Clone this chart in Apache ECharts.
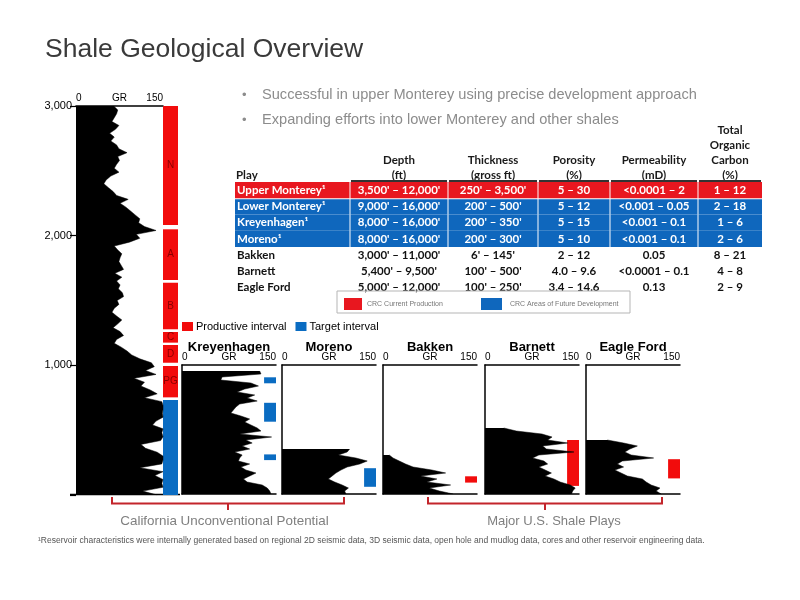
<!DOCTYPE html>
<html><head><meta charset="utf-8">
<script src="https://cdn.jsdelivr.net/npm/echarts@6/dist/echarts.min.js"></script>
<style>html,body{margin:0;padding:0;background:#fff}#c{width:800px;height:600px}</style>
</head><body><div id="c"></div>
<script>
// ---------------- DATA ----------------
const mainDepth = [3000,2970,2940,2910,2880,2850,2820,2790,2760,2730,2700,2670,2640,2610,2580,2550,2520,2490,2460,2430,2400,2370,2340,2310,2280,2250,2220,2190,2160,2130,2100,2070,2040,2010,1980,1950,1920,1890,1860,1830,1800,1770,1740,1710,1680,1650,1620,1590,1560,1530,1500,1470,1440,1410,1380,1350,1320,1290,1260,1230,1200,1170,1140,1110,1080,1050,1020,990,960,930,900,870,840,810,780,750,720,690,660,630,600,570,540,510,480,450,420,390,360,330,300,270,240,210,180,150,120,90,60,30,0];
const mainGR = [65,72,70,66,62,74,68,58,66,60,70,74,88,72,75,70,66,74,60,52,48,56,64,70,90,76,86,94,102,110,108,118,138,104,110,92,66,72,79,76,74,78,82,67,79,70,76,73,80,82,71,74,66,62,70,79,72,64,76,82,70,66,78,88,96,110,130,135,120,138,100,118,112,128,140,118,148,150,150,149,150,138,132,150,148,150,146,112,120,140,150,150,148,110,150,136,150,148,150,115,140];

const zoneNames = ['N','A','B','C','D','PG'];
const zoneTop   = [3000,2049,1637,1257,1157,995];
const zoneBase  = [2082,1658,1278,1175,1020,753];
const targetTop  = [733];
const targetBase = [0];

const miniNames = ['Kreyenhagen','Moreno','Bakken','Barnett','Eagle Ford'];
const miniSample = [0,1,2,3,4,5,6,7,8,9,10,11,12,13,14,15,16,17,18,19,20,21,22,23,24,25,26,27,28,29,30,31,32,33,34,35,36,37,38,39,40,41,42,43];
const kreyenhagenGR = [null,null,124,126,64,62,110,122,100,88,116,104,120,92,86,82,78,94,108,100,110,120,126,92,143,102,112,96,108,84,96,92,90,108,94,102,118,108,98,104,128,136,140,142];
const morenoGR = [null,null,null,null,null,null,null,null,null,null,null,null,null,null,null,null,null,null,null,null,null,null,null,null,null,null,null,null,108,104,90,118,136,124,104,94,86,80,74,84,96,106,100,102];
const bakkenGR = [null,null,null,null,null,null,null,null,null,null,null,null,null,null,null,null,null,null,null,null,null,null,null,null,null,null,null,null,null,null,10,16,26,36,48,78,100,60,86,70,108,74,90,112];
const barnettGR = [null,null,null,null,null,null,null,null,null,null,null,null,null,null,null,null,null,null,null,null,null,30,50,91,107,100,132,92,98,142,86,76,94,100,86,96,106,96,110,120,136,144,140,138];
const eagleFordGR = [null,null,null,null,null,null,null,null,null,null,null,null,null,null,null,null,null,null,null,null,null,null,null,null,null,34,60,82,70,62,72,108,58,50,60,46,56,66,90,96,104,118,112,120];
const miniGR = [kreyenhagenGR, morenoGR, bakkenGR, barnettGR, eagleFordGR];
const miniTargetTop  = [[4.1,12.6,29.8],[34.4],[],[],[]];
const miniTargetBase = [[6.1,18.9,31.7],[40.6],[],[],[]];
const miniProdTop    = [[],[],[37.1],[25.0],[31.4]];
const miniProdBase   = [[],[],[39.2],[40.3],[37.8]];

const tablePlays = ['Upper Monterey','Lower Monterey','Kreyenhagen','Moreno','Bakken','Barnett','Eagle Ford'];
const tableNote  = [true,true,true,true,false,false,false];
const tableStatus = ['current','future','future','future','other','other','other'];
const tableDepth = ["3,500' \u2013 12,000'","9,000' \u2013 16,000'","8,000' \u2013 16,000'","8,000' \u2013 16,000'","3,000' \u2013 11,000'","5,400' \u2013 9,500'","5,000' \u2013 12,000'"];
const tableThick = ["250' \u2013 3,500'","200' \u2013 500'","200' \u2013 350'","200' \u2013 300'","6' \u2013 145'","100' \u2013 500'","100' \u2013 250'"];
const tablePoro  = ["5 \u2013 30","5 \u2013 12","5 \u2013 15","5 \u2013 10","2 \u2013 12","4.0 \u2013 9.6","3.4 \u2013 14.6"];
const tablePerm  = ["<0.0001 \u2013 2","<0.001 \u2013 0.05","<0.001 \u2013 0.1","<0.001 \u2013 0.1","0.05","<0.0001 \u2013 0.1","0.13"];
const tableTOC   = ["1 \u2013 12","2 \u2013 18","1 \u2013 6","2 \u2013 6","8 \u2013 21","4 \u2013 8","2 \u2013 9"];
const tableHeads = [['Play'],['Depth','(ft)'],['Thickness','(gross ft)'],['Porosity','(%)'],['Permeability','(mD)'],['Total','Organic','Carbon','(%)']];

const bullets = ['Successful in upper Monterey using precise development approach','Expanding efforts into lower Monterey and other shales'];
const groupLabels = ['California Unconventional Potential','Major U.S. Shale Plays'];
const crcLegend = ['CRC Current Production','CRC Areas of Future Development'];
const footnote = '\u00B9Reservoir characteristics were internally generated based on regional 2D seismic data, 3D seismic data, open hole and mudlog data, cores and other reservoir engineering data.';

// ---------------- STYLE / LAYOUT ----------------
const RED = '#f20c0c', BLUE = '#0a6cc2', TRED = '#e8171f', TBLUE = '#0f67bd';
const FONT = 'Liberation Sans';
const chart = echarts.init(document.getElementById('c'), null, {renderer:'canvas'});

const grids = [
  {left:76, top:106, width:87, height:389},
  {left:163, top:106, width:15, height:389}
];
const miniLeft = [182,282,383,485,586];
miniLeft.forEach(l => grids.push({left:l, top:365, width:94, height:129}));

const xAxes = [], yAxes = [], series = [];
const grAxis = (gi) => ({
  gridIndex:gi, type:'value', min:0, max:150, interval:150, position:'top',
  axisLine:{show:true, onZero:false, lineStyle:{color:'#000', width:1.5}},
  axisTick:{show:false}, splitLine:{show:false},
  axisLabel:{fontSize:10, color:'#000', margin:3, fontFamily:FONT, alignMinLabel:'left', alignMaxLabel:'right'},
  name:'GR', nameLocation:'middle', nameGap:3, nameMoveOverlap:false,
  nameTextStyle:{fontSize:10, color:'#000', fontFamily:FONT, verticalAlign:'bottom'}
});
// main grid
xAxes.push(grAxis(0));
yAxes.push({gridIndex:0, type:'category', data:mainDepth, inverse:true, boundaryGap:false, show:false});
yAxes.push({gridIndex:0, type:'value', min:0, max:3000, interval:1000, position:'left',
  axisLine:{show:false}, axisTick:{show:true, length:6, lineStyle:{color:'#000', width:1.2}}, splitLine:{show:false},
  axisLabel:{fontSize:11, color:'#000', margin:4, fontFamily:FONT, formatter:v => v === 0 ? '' : v.toLocaleString('en-US')}});
// column grid
xAxes.push({gridIndex:1, type:'value', min:0, max:1, show:false});
yAxes.push({gridIndex:1, type:'value', min:0, max:3000, show:false});

series.push({type:'line', xAxisIndex:0, yAxisIndex:0, data:mainGR, symbol:'none', silent:true,
  lineStyle:{color:'#000', width:0.5}, areaStyle:{color:'#000', opacity:1}});

function rectRender(labels, labelColor) {
  return function(params, api) {
    const p0 = api.coord([api.value(0), api.value(2)]);
    const p1 = api.coord([api.value(1), api.value(3)]);
    const x = Math.min(p0[0], p1[0]), y = Math.min(p0[1], p1[1]);
    const w = Math.abs(p1[0]-p0[0]), h = Math.abs(p1[1]-p0[1]);
    const children = [{type:'rect', shape:{x, y, width:w, height:h}, style:{fill:api.visual('color')}}];
    if (labels) children.push({type:'text', style:{x:x+w/2, y:y+h/2, text:labels[params.dataIndex], fill:labelColor,
      font:'10px ' + FONT, align:'center', verticalAlign:'middle'}});
    return {type:'group', children};
  };
}
series.push({type:'custom', name:'Productive interval', xAxisIndex:1, yAxisIndex:2, itemStyle:{color:RED},
  data: zoneNames.map((n,i) => [0, 1, zoneTop[i], zoneBase[i]]), renderItem: rectRender(zoneNames, '#8a0000'), silent:true});
series.push({type:'custom', name:'Target interval', xAxisIndex:1, yAxisIndex:2, itemStyle:{color:BLUE},
  data: targetTop.map((t,i) => [0, 1, t, targetBase[i]]), renderItem: rectRender(null), silent:true});

// mini grids
miniNames.forEach((nm, i) => {
  const gi = 2 + i;
  const xi = xAxes.length;
  xAxes.push(grAxis(gi));
  xAxes.push({gridIndex:gi, type:'value', min:0, max:150, position:'bottom',
    axisLine:{show:true, onZero:false, lineStyle:{color:'#000', width:1.5}}, axisTick:{show:false}, axisLabel:{show:false}, splitLine:{show:false}});
  const yi = yAxes.length;
  yAxes.push({gridIndex:gi, type:'category', data:miniSample, inverse:true, boundaryGap:false, position:'left',
    axisLine:{show:true, onZero:false, lineStyle:{color:'#000', width:1.5}}, axisTick:{show:false}, axisLabel:{show:false}});
  yAxes.push({gridIndex:gi, type:'value', min:0, max:43, inverse:true, show:false});
  series.push({type:'line', xAxisIndex:xi, yAxisIndex:yi, data:miniGR[i], symbol:'none', silent:true, connectNulls:false,
    lineStyle:{color:'#000', width:0.5}, areaStyle:{color:'#000', opacity:1}});
  if (miniTargetTop[i].length) series.push({type:'custom', name:'Target interval', xAxisIndex:xi, yAxisIndex:yi+1,
    itemStyle:{color:BLUE}, silent:true, renderItem:rectRender(null),
    data: miniTargetTop[i].map((t,k) => [131, 150, t, miniTargetBase[i][k]])});
  if (miniProdTop[i].length) series.push({type:'custom', name:'Productive interval', xAxisIndex:xi, yAxisIndex:yi+1,
    itemStyle:{color:RED}, silent:true, renderItem:rectRender(null),
    data: miniProdTop[i].map((t,k) => [131, 150, t, miniProdBase[i][k]])});
});

// ---------------- GRAPHICS (text, table) ----------------
const g = [];
const txt = (x, y, text, font, fill, align) => g.push({type:'text', x, y, silent:true,
  style:{text, font, fill, align:align||'left', textAlign:align||'left', verticalAlign:'middle', textVerticalAlign:'middle'}});

txt(45, 49.5, 'Shale Geological Overview', '26.5px ' + FONT, '#3a3a3a');
bullets.forEach((b, i) => { txt(242, 95 + i*25, '\u2022', '13px ' + FONT, '#8c8c8c'); txt(262, 95 + i*25, b, '14.6px ' + FONT, '#8c8c8c'); });

// mini titles
miniNames.forEach((nm, i) => txt(miniLeft[i] + 47, 347, nm, 'bold 13px ' + FONT, '#000', 'center'));

// table
const colB = [235, 350, 448, 538, 610, 698, 762];
const rowC0 = 190.2, rowH = 16.2;
const TF = 'bold 11.5px Lato';
tableHeads.forEach((lines, j) => {
  lines.forEach((ln, k) => {
    const y = 175 - (lines.length - 1 - k) * 14.8;
    if (j === 0) txt(236, y, ln, TF, '#1a1a1a');
    else txt((colB[j] + colB[j+1]) / 2, y, ln, TF, '#1a1a1a', 'center');
  });
  if (j > 0) g.push({type:'line', silent:true, shape:{x1:colB[j]+1, y1:181, x2:colB[j+1]-1, y2:181}, style:{stroke:'#333', lineWidth:2}});
});
const cols = [tableDepth, tableThick, tablePoro, tablePerm, tableTOC];
tablePlays.forEach((p, r) => {
  const cy = rowC0 + r * rowH;
  const st = tableStatus[r];
  if (st !== 'other') {
    const fill = st === 'current' ? TRED : TBLUE;
    const top = cy - rowH/2 + (r === 1 ? 1 : 0);
    const h = rowH - (r === 1 ? 1 : 0);
    for (let j = 0; j < 6; j++) {
      const x0 = colB[j] + (j > 0 ? 0.5 : 0), x1 = colB[j+1] - (j < 5 ? 0.5 : 0);
      g.push({type:'rect', silent:true, shape:{x:x0, y:top, width:x1-x0, height:h}, style:{fill}});
    }
  }
  const fc = st === 'other' ? '#111' : '#fff';
  txt(237, cy, p + (tableNote[r] ? '\u00B9' : ''), TF, fc);
  cols.forEach((c, j) => txt((colB[j+1] + colB[j+2]) / 2, cy, c[r], TF, fc, 'center'));
});
// CRC legend box
g.push({type:'rect', silent:true, shape:{x:337, y:291, width:293, height:22}, style:{fill:'none', stroke:'#b5b5b5', lineWidth:1}});
g.push({type:'rect', silent:true, shape:{x:344, y:298, width:18, height:12}, style:{fill:TRED}});
g.push({type:'rect', silent:true, shape:{x:481, y:298, width:21, height:12}, style:{fill:TBLUE}});
txt(367, 304.5, crcLegend[0], '7px ' + FONT, '#777');
txt(510, 304.5, crcLegend[1], '7px ' + FONT, '#777');

// main log bottom line
g.push({type:'line', silent:true, shape:{x1:70, y1:494.5, x2:180, y2:494.5}, style:{stroke:'#000', lineWidth:1.5}});

// brackets
const BR = '#c3252b';
[[112, 344, 228], [428, 662, 545]].forEach(([a, b, t]) => {
  g.push({type:'polyline', silent:true, shape:{points:[[a,497],[a,503.5],[b,503.5],[b,497]]}, style:{stroke:BR, lineWidth:2, fill:null}});
  g.push({type:'line', silent:true, shape:{x1:t, y1:503.5, x2:t, y2:510}, style:{stroke:BR, lineWidth:2}});
});
txt(224.5, 521.5, groupLabels[0], '13.4px ' + FONT, '#7f7f7f', 'center');
txt(554, 521.5, groupLabels[1], '13px ' + FONT, '#7f7f7f', 'center');
txt(38, 540.5, footnote, '8.5px ' + FONT, '#555');

chart.setOption({
  animation:false,
  backgroundColor:'#fff',
  grid:grids, xAxis:xAxes, yAxis:yAxes, series,
  legend:{data:['Productive interval','Target interval'], left:182, top:321, padding:0, icon:'rect', itemWidth:11, itemHeight:9,
    itemGap:9, selectedMode:false, textStyle:{fontSize:11, color:'#000', fontFamily:FONT, padding:[0,0,0,-2]}},
  graphic:g
});
</script></body></html>
